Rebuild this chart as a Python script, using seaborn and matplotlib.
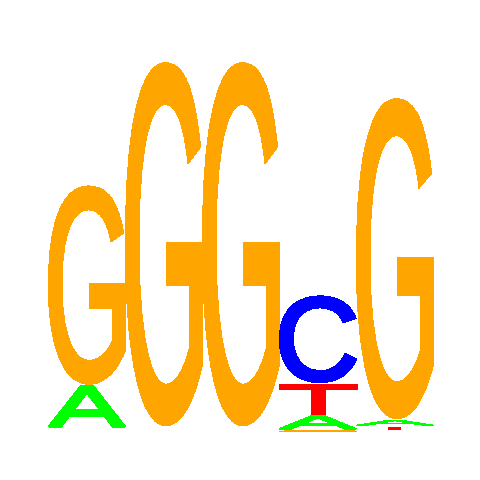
import matplotlib
matplotlib.use("Agg")
import matplotlib.pyplot as plt
import numpy as np
import pandas as pd
import seaborn as sns
from matplotlib.font_manager import FontProperties
from matplotlib.patches import PathPatch
from matplotlib.textpath import TextPath
from matplotlib.transforms import Affine2D

# information content (bits) per base and position
positions = [1, 2, 3, 4, 5]
bits_A = [0.235, 0.0114, 0.0114, 0.0816, 0.035]
bits_C = [0.0116, 0.0114, 0.0114, 0.477, 0.0108]
bits_G = [1.080, 1.970, 1.970, 0.0151, 1.738]
bits_T = [0.0116, 0.0114, 0.0114, 0.170, 0.026]

base_colors = {"A": "#00FF00", "C": "#0000FF", "G": "#FFA500", "T": "#FF0000"}

df = pd.DataFrame({"A": bits_A, "C": bits_C, "G": bits_G, "T": bits_T},
                  index=positions)

sns.set_style("white")
fig = plt.figure(figsize=(4.8, 4.8), dpi=100)
ax = fig.add_axes([0, 0, 1, 1])

font = FontProperties(family="Liberation Sans", weight="normal")
pad = 0.00405      # small vertical gap between stacked letters
min_h = 0.006      # letters thinner than this are not drawn
px_x, px_y = 1 / 77, 1 / 185   # one pixel in data units
max_grow = 1.5     # outline thickening, pixels per side, for tall letters


def draw_letter(ax, letter, x, y, w, h):
    tp = TextPath((0, 0), letter, size=1, prop=font)
    ext = tp.get_extents()
    # thicken tall letters a little, leave short ones thin
    grow = min(max_grow, h / px_y / 40)
    lw = 0
    if grow > 0.3:
        x, w = x + grow * px_x, w - 2 * grow * px_x
        y, h = y + grow * px_y, h - 2 * grow * px_y
        lw = 2 * grow * 72 / 100
    tr = (Affine2D()
          .translate(-ext.x0, -ext.y0)
          .scale(w / ext.width, h / ext.height)
          .translate(x, y))
    col = base_colors[letter]
    patch = PathPatch(tr.transform_path(tp), facecolor=col,
                      edgecolor=col if lw else "none", linewidth=lw,
                      joinstyle="miter", antialiased=False)
    ax.add_patch(patch)


# smallest letter at the bottom of each column
for pos, row in df.iterrows():
    y = 0.0
    for letter, val in row.sort_values(kind="stable").items():
        gh = val - 2 * pad
        if gh >= min_h:
            draw_letter(ax, letter, pos - 0.5, y + pad, 1.0, gh)
        y += val

ax.set_xlim(0.5 - 48.3 / 77, 0.5 + 431.7 / 77)
ax.set_ylim(-47.25 / 185, 432.75 / 185)
ax.axis("off")

fig.savefig("out.png", dpi=100, facecolor="white")
plt.close(fig)
